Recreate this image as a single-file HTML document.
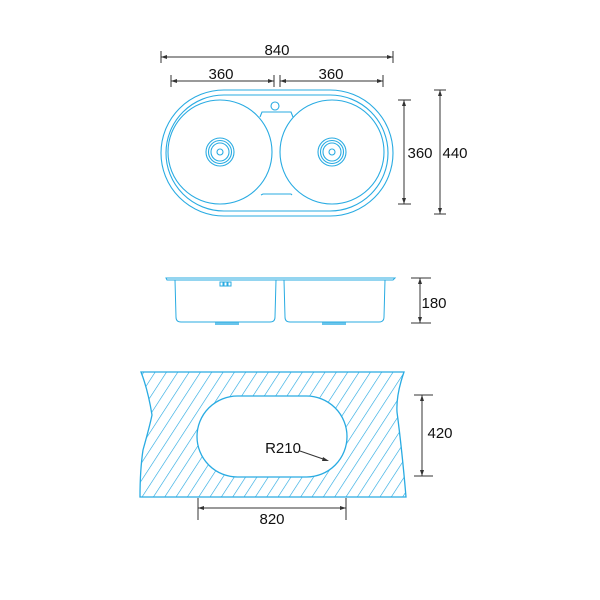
<!DOCTYPE html>
<html><head><meta charset="utf-8"><style>
html,body{margin:0;padding:0;background:#fff;}
svg{display:block;}
text{font-family:"Liberation Sans",sans-serif;font-size:15px;fill:#111;text-anchor:middle;}
</style></head><body>
<svg width="600" height="600" viewBox="0 0 600 600" xmlns="http://www.w3.org/2000/svg">
<defs>
<pattern id="h" patternUnits="userSpaceOnUse" width="9.5" height="9.5" patternTransform="rotate(33)">
<line x1="0" y1="0" x2="0" y2="9.5" stroke="#1ea5e0" stroke-width="1.2"/>
</pattern>
<mask id="m">
<rect width="600" height="600" fill="#fff"/>
<rect x="197" y="396" width="150" height="81" rx="40.5" fill="#000"/>
</mask>
</defs>
<g stroke="#333" stroke-width="1" fill="none">
<line x1="161" y1="57" x2="393" y2="57"/><line x1="161" y1="51" x2="161" y2="63"/><line x1="393" y1="51" x2="393" y2="63"/>
<line x1="171" y1="81" x2="274" y2="81"/><line x1="171" y1="75" x2="171" y2="87"/><line x1="274" y1="75" x2="274" y2="87"/>
<line x1="280" y1="81" x2="383" y2="81"/><line x1="280" y1="75" x2="280" y2="87"/><line x1="383" y1="75" x2="383" y2="87"/>
<line x1="404" y1="100" x2="404" y2="204"/><line x1="398" y1="100" x2="411" y2="100"/><line x1="398" y1="204" x2="411" y2="204"/>
<line x1="440" y1="90" x2="440" y2="214"/><line x1="434" y1="90" x2="446" y2="90"/><line x1="434" y1="214" x2="446" y2="214"/>
<line x1="420" y1="278" x2="420" y2="323"/><line x1="411" y1="278" x2="431" y2="278"/><line x1="411" y1="323" x2="431" y2="323"/>
<line x1="422" y1="395" x2="422" y2="476"/><line x1="414" y1="395" x2="433" y2="395"/><line x1="414" y1="476" x2="433" y2="476"/>
<line x1="198" y1="508" x2="346" y2="508"/><line x1="198" y1="498" x2="198" y2="520"/><line x1="346" y1="498" x2="346" y2="520"/>
</g>
<g fill="#333">
<path d="M161 57l6-2v4z M393 57l-6-2v4z M171 81l6-2v4z M274 81l-6-2v4z M280 81l6-2v4z M383 81l-6-2v4z"/>
<path d="M404 100l-2 6h4z M404 204l-2-6h4z M440 90l-2 6h4z M440 214l-2-6h4z M420 278l-2 6h4z M420 323l-2-6h4z"/>
<path d="M422 395l-2 6h4z M422 476l-2-6h4z M198 508l6-2v4z M346 508l-6-2v4z"/>
</g>
<text x="277" y="55">840</text>
<text x="221" y="79">360</text>
<text x="331" y="79">360</text>
<text x="420" y="158">360</text>
<text x="455" y="158">440</text>
<text x="434" y="308">180</text>
<text x="440" y="438">420</text>
<text x="272" y="524">820</text>
<text x="283" y="453">R210</text>
<line x1="300" y1="451" x2="326" y2="460" stroke="#333" stroke-width="1"/>
<path d="M329 461l-6-4-1 4z" fill="#333"/>
<g stroke="#29abe2" stroke-width="1.1" fill="none">
<rect x="161" y="90" width="232" height="126" rx="63"/>
<rect x="166" y="95" width="222" height="116" rx="58"/>
<circle cx="220" cy="152" r="52"/>
<circle cx="332" cy="152" r="52"/>
<path d="M260 117 L262 112 L291 112 L293 117"/>
<path d="M261 195 L263 194 L291 194 L292 195"/>
<circle cx="275" cy="106" r="4"/>
<circle cx="220" cy="152" r="14"/><circle cx="220" cy="152" r="11.5"/><circle cx="220" cy="152" r="9"/><circle cx="220" cy="152" r="3"/>
<circle cx="332" cy="152" r="14"/><circle cx="332" cy="152" r="11.5"/><circle cx="332" cy="152" r="9"/><circle cx="332" cy="152" r="3"/>
</g>
<g stroke="#29abe2" stroke-width="1" fill="none">
<path d="M166 278 L395 278 L393 280 L167 280 Z"/>
<path d="M175 280 L176 317 Q176 322 181 322 L270 322 Q275 322 275 317 L276 280"/>
<path d="M284 280 L285 317 Q285 322 290 322 L379 322 Q384 322 384 317 L385 280"/>
<rect x="220" y="282" width="3" height="4"/><rect x="224" y="282" width="3" height="4"/><rect x="228" y="282" width="3" height="4"/>
</g>
<rect x="215" y="322" width="24" height="3" fill="#29abe2" opacity="0.7"/>
<rect x="322" y="322" width="24" height="3" fill="#29abe2" opacity="0.7"/>
<path d="M141 372 L404 372 Q396 395 397 412 Q402 450 406 497 L140 497 Q140 470 143 450 Q150 425 152 415 Q148 390 141 372 Z" fill="url(#h)" mask="url(#m)" stroke="#29abe2" stroke-width="1.3"/>
<rect x="197" y="396" width="150" height="81" rx="40.5" fill="none" stroke="#29abe2" stroke-width="1.3"/>
</svg>
</body></html>
